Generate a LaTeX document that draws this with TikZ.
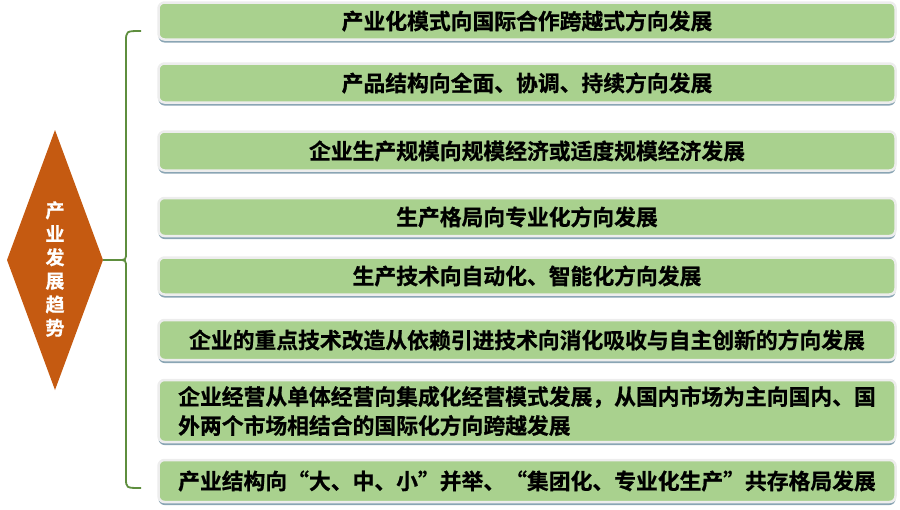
\documentclass[tikz,border=0pt]{standalone}
\usepackage{fontspec}
\setmainfont{Noto Sans CJK SC}[BoldFont={Noto Sans CJK SC Bold}, BoldFeatures={FakeBold=0.8}]
\usetikzlibrary{shapes.geometric,shadows}
\definecolor{boxgreen}{HTML}{A9D18E}
\definecolor{rimgray}{HTML}{EDEDED}
\definecolor{shadowblue}{HTML}{8AA5B4}
\definecolor{trendorange}{HTML}{C55A11}
\definecolor{bracegreen}{HTML}{5E8E3E}

\begin{document}
\begin{tikzpicture}[x=1pt, y=-1pt, b/.style={rectangle, rounded corners=6pt, fill=boxgreen, draw=rimgray, line width=2.5pt, minimum width=737pt, inner sep=0pt, font=\fontsize{21.8}{29}\selectfont\bfseries, drop shadow={shadow xshift=0pt, shadow yshift=-3pt, shadow scale=1, fill=shadowblue, opacity=1}}, d/.style={diamond, fill=trendorange, minimum width=96pt, minimum height=260pt, inner sep=0pt, outer sep=0pt}, br/.style={draw=bracegreen, line width=1.8pt}]
		\useasboundingbox (0,0) rectangle (900,509);
		\node[d] (dia) at (55,260) {};
		\node[text=white, align=center, font=\fontsize{19}{23.5}\selectfont\bfseries] (dia_label) at (55,269) {产\\业\\发\\展\\趋\\势};

		\node[b, minimum height=37pt] (b1) at (527,21) {产业化模式向国际合作跨越式方向发展};
		\node[b, minimum height=39pt] (b2) at (527,83) {产品结构向全面、协调、持续方向发展};
		\node[b, minimum height=39pt] (b3) at (527,151) {企业生产规模向规模经济或适度规模经济发展};
		\node[b, minimum height=38pt] (b4) at (527,217) {生产格局向专业化方向发展};
		\node[b, minimum height=37pt] (b5) at (527,276) {生产技术向自动化、智能化方向发展};
		\node[b, minimum height=40pt] (b6) at (527,340) {企业的重点技术改造从依赖引进技术向消化吸收与自主创新的方向发展};
		\node[b, minimum height=62pt, align=left] (b7) at (527,411) {企业经营从单体经营向集成化经营模式发展，从国内市场为主向国内、国\\外两个市场相结合的国际化方向跨越发展};
		\node[b, minimum height=42pt] (b8) at (527,481) {产业结构向“大、中、小”并举、“集团化、专业化生产”共存格局发展};

		\coordinate (brace_top) at (141,31);
		\coordinate (brace_mid) at (118,260);
		\coordinate (brace_bot) at (141,488);
		\draw[br] (brace_top) .. controls (126,31) .. (126,42) -- (126,252) .. controls (126,260) .. (brace_mid) -- (dia.east);
		\draw[br] (brace_mid) .. controls (126,260) .. (126,268) -- (126,478) .. controls (126,488) .. (brace_bot);
	\end{tikzpicture}
\end{document}
